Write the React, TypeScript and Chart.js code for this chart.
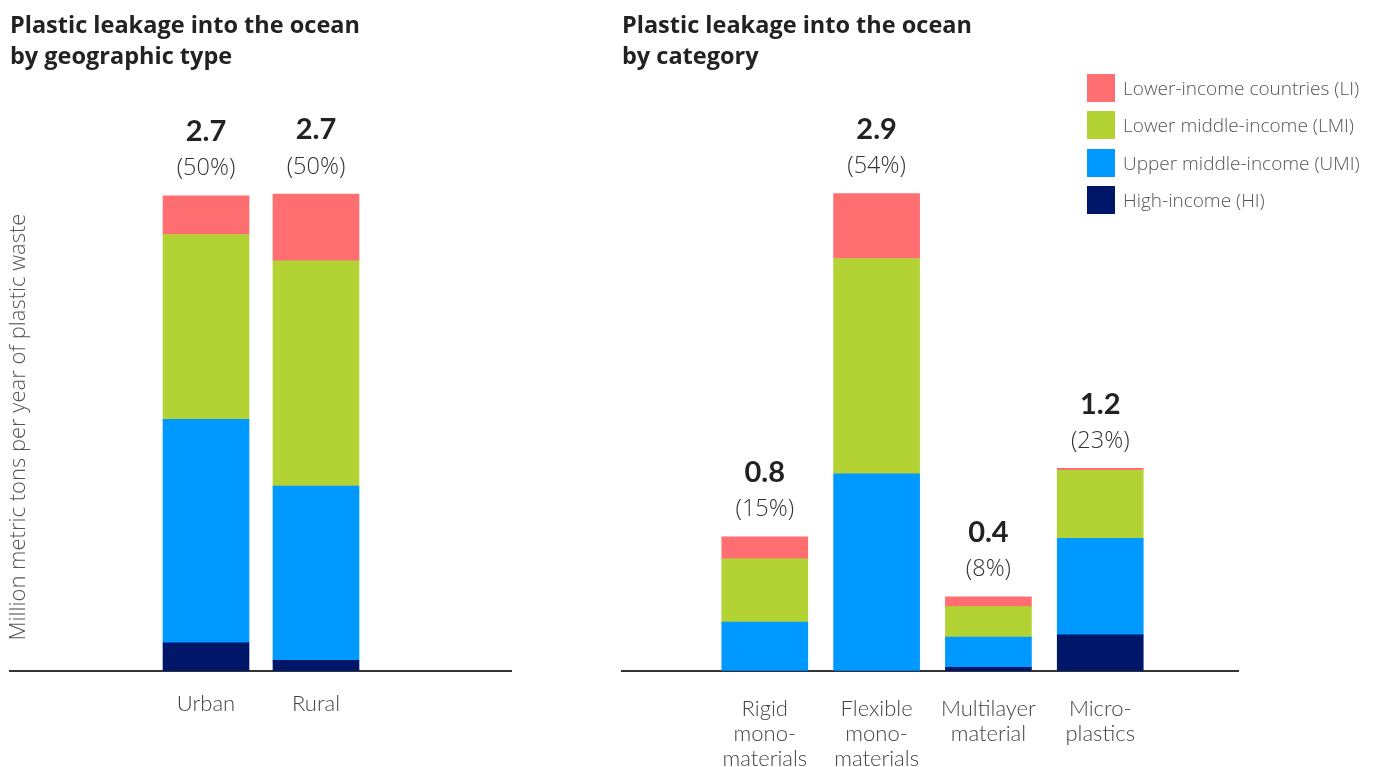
import React, { useEffect, useRef } from 'react';
import { Chart, registerables } from 'chart.js';

Chart.register(...registerables);

// ---------- data ----------
const seriesNames = [
  'Lower-income countries (LI)',
  'Lower middle-income (LMI)',
  'Upper middle-income (UMI)',
  'High-income (HI)',
];
const seriesColors = ['#FF6F71', '#B3D335', '#0099FF', '#001769'];

const geoTitle = ['Plastic leakage into the ocean', 'by geographic type'];
const geoCategories = ['Urban', 'Rural'];
const geoLI = [0.22, 0.38];
const geoLMI = [1.05, 1.28];
const geoUMI = [1.27, 0.99];
const geoHI = [0.16, 0.06];
const geoTotals = ['2.7', '2.7'];
const geoShares = ['(50%)', '(50%)'];

const catTitle = ['Plastic leakage into the ocean', 'by category'];
const catCategories = [
  ['Rigid', 'mono-', 'materials'],
  ['Flexible', 'mono-', 'materials'],
  ['Multilayer', 'material'],
  ['Micro-', 'plastics'],
];
const catLI = [0.134, 0.395, 0.06, 0.013];
const catLMI = [0.384, 1.307, 0.185, 0.413];
const catUMI = [0.297, 1.198, 0.184, 0.586];
const catHI = [0, 0, 0.022, 0.219];
const catTotals = ['0.8', '2.9', '0.4', '1.2'];
const catShares = ['(15%)', '(54%)', '(8%)', '(23%)'];

const yAxisTitle = 'Million metric tons per year of plastic waste';

const FONT = 'Lato, "Open Sans", sans-serif';
const WIDE = '"Open Sans", Lato, sans-serif';

type PanelProps = {
  left: number;
  width: number;
  height: number;
  categories: (string | string[])[];
  li: number[];
  lmi: number[];
  umi: number[];
  hi: number[];
  totals: string[];
  shares: string[];
  xMin: number;
  xMax: number;
  padding: { left: number; right: number; top: number; bottom: number };
  yMax: number;
  tickPadding: number;
  showYTitle: boolean;
};

function Panel(p: PanelProps) {
  const ref = useRef<HTMLCanvasElement | null>(null);

  useEffect(() => {
    if (!ref.current) return;
    const toPts = (arr: number[]) => arr.map((v, i) => ({ x: i, y: v }));
    // bottom-up stacking order: HI, UMI, LMI, LI
    const stackOrder = [
      { idx: 3, vals: p.hi },
      { idx: 2, vals: p.umi },
      { idx: 1, vals: p.lmi },
      { idx: 0, vals: p.li },
    ];
    const datasets = stackOrder.map((s) => ({
      label: seriesNames[s.idx],
      data: toPts(s.vals),
      backgroundColor: seriesColors[s.idx],
      borderWidth: 0,
      barThickness: 86,
    }));

    const labelPlugin = {
      id: 'stackLabels',
      afterDatasetsDraw(chart: any) {
        const { ctx } = chart;
        const xs = chart.scales.x;
        const ys = chart.scales.y;
        ctx.save();
        ctx.textAlign = 'center';
        ctx.textBaseline = 'middle';
        p.totals.forEach((t, i) => {
          const sum = p.li[i] + p.lmi[i] + p.umi[i] + p.hi[i];
          const cx = xs.getPixelForValue(i);
          const top = ys.getPixelForValue(sum);
          ctx.fillStyle = '#222';
          ctx.font = `bold 29px ${FONT}`;
          ctx.fillText(t, cx, top - 64);
          ctx.fillStyle = '#333';
          ctx.font = `300 23.5px ${WIDE}`;
          ctx.fillText(p.shares[i], cx, top - 27);
        });
        if (p.showYTitle) {
          ctx.translate(19, 427);
          ctx.rotate(-Math.PI / 2);
          ctx.fillStyle = '#555';
          ctx.font = `300 22px ${WIDE}`;
          ctx.fillText(yAxisTitle, 0, 0);
        }
        ctx.restore();
      },
    };

    const chart = new Chart(ref.current, {
      type: 'bar',
      data: { datasets: datasets as any },
      options: {
        animation: false,
        responsive: false,
        devicePixelRatio: 1,
        layout: { padding: p.padding },
        plugins: {
          legend: { display: false },
          title: { display: false },
          tooltip: { enabled: false },
        },
        scales: {
          x: {
            type: 'linear',
            min: p.xMin,
            max: p.xMax,
            offset: false,
            stacked: true,
            afterBuildTicks: (scale: any) => {
              scale.ticks = p.categories.map((_, i) => ({ value: i }));
            },
            ticks: {
              autoSkip: false,
              maxRotation: 0,
              minRotation: 0,
              padding: p.tickPadding,
              color: '#444',
              font: { family: FONT, size: 22, weight: '300' as any, lineHeight: '25px' as any },
              callback: (v: any) => {
                const c = p.categories[Number(v)];
                return c === undefined ? '' : (c as any);
              },
            },
            grid: { display: false, drawTicks: false },
            border: { display: true, color: '#333', width: 2 },
          },
          y: {
            display: false,
            stacked: true,
            min: 0,
            max: p.yMax,
          },
        },
      },
      plugins: [labelPlugin],
    });
    return () => chart.destroy();
  }, []);

  return (
    <canvas
      ref={ref}
      width={p.width}
      height={p.height}
      style={{ position: 'absolute', left: p.left, top: 0, display: 'block' }}
    />
  );
}

function Title({ lines, left }: { lines: string[]; left: number }) {
  return (
    <div
      style={{
        position: 'absolute',
        left,
        top: 8.5,
        fontFamily: WIDE,
        fontWeight: 700,
        fontSize: 23.5,
        lineHeight: '31px',
        color: '#222',
        whiteSpace: 'nowrap',
      }}
    >
      {lines.map((l, i) => (
        <div key={i}>{l}</div>
      ))}
    </div>
  );
}

function Legend() {
  return (
    <div style={{ position: 'absolute', left: 1087, top: 74 }}>
      {seriesNames.map((n, i) => (
        <div
          key={n}
          style={{ display: 'flex', alignItems: 'center', height: 28, marginBottom: 9.3 }}
        >
          <div style={{ width: 28, height: 28, background: seriesColors[i], flex: 'none' }} />
          <div
            style={{
              marginLeft: 8,
              fontFamily: WIDE,
              fontWeight: 300,
              fontSize: 19,
              color: '#555',
              whiteSpace: 'nowrap',
            }}
          >
            {n}
          </div>
        </div>
      ))}
    </div>
  );
}

export default function App() {
  return (
    <div
      style={{
        position: 'fixed',
        left: 0,
        top: 0,
        width: 1378,
        height: 767,
        overflow: 'hidden',
        background: '#fff',
      }}
    >
      <Panel
        left={0}
        width={560}
        height={767}
        categories={geoCategories}
        li={geoLI}
        lmi={geoLMI}
        umi={geoUMI}
        hi={geoHI}
        totals={geoTotals}
        shares={geoShares}
        xMin={-1.782}
        xMax={2.773}
        padding={{ left: 10, right: 49, top: 143, bottom: 31 }}
        yMax={3}
        tickPadding={20}
        showYTitle={true}
      />
      <Panel
        left={560}
        width={818}
        height={800}
        categories={catCategories}
        li={catLI}
        lmi={catLMI}
        umi={catUMI}
        hi={catHI}
        totals={catTotals}
        shares={catShares}
        xMin={-1.277}
        xMax={4.232}
        padding={{ left: 62, right: 140, top: 177, bottom: 4 }}
        yMax={3}
        tickPadding={25}
        showYTitle={false}
      />
      <Title lines={geoTitle} left={10} />
      <Title lines={catTitle} left={622} />
      <Legend />
    </div>
  );
}
